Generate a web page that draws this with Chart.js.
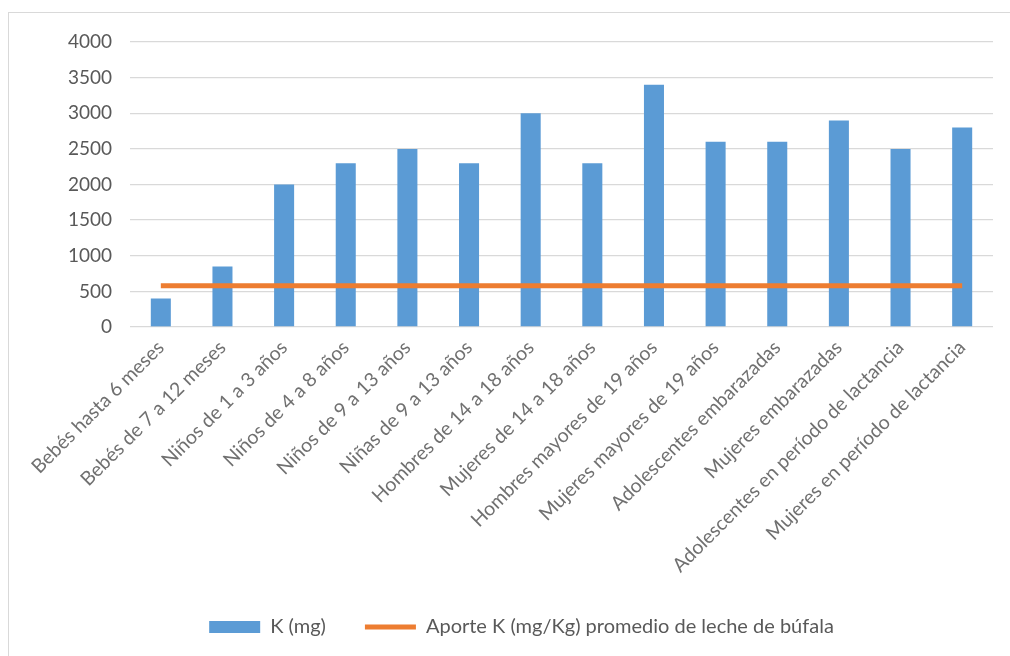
<!DOCTYPE html>
<html>
<head>
<meta charset="utf-8">
<script src="https://cdn.jsdelivr.net/npm/chart.js@4/dist/chart.umd.min.js"></script>
<style>
  html, body { margin: 0; padding: 0; background: #fff; overflow: hidden; }
  #frame { position: absolute; left: 8px; top: 12px; width: 1100px; height: 700px; border: 1px solid #d9d9d9; box-sizing: border-box; }
  #wrap { position: absolute; left: 0; top: 0; width: 1010px; height: 656px; }
</style>
</head>
<body>
<div id="frame"></div>
<div id="wrap"><canvas id="c" width="1010" height="656"></canvas></div>
<script>
const categories = [
  "Bebés hasta 6 meses",
  "Bebés de 7 a 12 meses",
  "Niños de 1 a 3 años",
  "Niños de 4 a 8 años",
  "Niños de 9 a 13 años",
  "Niñas de 9 a 13 años",
  "Hombres de 14 a 18 años",
  "Mujeres de 14 a 18 años",
  "Hombres mayores de 19 años",
  "Mujeres mayores de 19 años",
  "Adolescentes embarazadas",
  "Mujeres embarazadas",
  "Adolescentes en período de lactancia",
  "Mujeres en período de lactancia"
];
const kValues = [400, 850, 2000, 2300, 2500, 2300, 3000, 2300, 3400, 2600, 2600, 2900, 2500, 2800];
const aporteValues = [580, 580, 580, 580, 580, 580, 580, 580, 580, 580, 580, 580, 580, 580];
const yTicks = [0, 500, 1000, 1500, 2000, 2500, 3000, 3500, 4000];
const seriesNames = ["K (mg)", "Aporte K (mg/Kg) promedio de leche de búfala"];

const FONT = "Lato, 'Liberation Sans', sans-serif";
const GREY = "#595959";

new Chart(document.getElementById('c'), {
  data: {
    labels: categories,
    datasets: [
      {
        type: 'line',
        label: seriesNames[1],
        data: aporteValues,
        borderColor: '#ED7D31',
        backgroundColor: '#ED7D31',
        borderWidth: 5,
        pointRadius: 0,
        pointStyle: 'line',
        order: 0
      },
      {
        type: 'bar',
        label: seriesNames[0],
        data: kValues,
        backgroundColor: '#5B9BD5',
        borderWidth: 0,
        pointStyle: 'rect',
        categoryPercentage: 1,
        barPercentage: 0.325,
        order: 1
      }
    ]
  },
  options: {
    responsive: false,
    animation: false,
    layout: { padding: { left: 50, right: 17, top: 42, bottom: 9 } },
    plugins: {
      tooltip: { enabled: false },
      legend: {
        position: 'bottom',
        reverse: true,
        labels: {
          usePointStyle: true,
          pointStyleWidth: 51,
          boxHeight: 12,
          padding: 39,
          color: GREY,
          font: { family: FONT, size: 20 }
        }
      }
    },
    scales: {
      x: {
        grid: { display: false, drawTicks: false },
        border: { display: false },
        ticks: {
          autoSkip: false,
          minRotation: 45,
          maxRotation: 45,
          padding: 9,
          color: '#707070',
          font: { family: FONT, size: 19.5 }
        },
        afterFit: s => { s.height = 251; }
      },
      y: {
        min: 0,
        max: 4000,
        afterBuildTicks: s => { s.ticks = yTicks.map(v => ({ value: v })); },
        grid: { color: '#d9d9d9', lineWidth: 1.3, drawTicks: false },
        border: { display: false },
        ticks: {
          padding: 18,
          color: GREY,
          font: { family: FONT, size: 19 },
          callback: v => String(v)
        },
        afterFit: s => { s.width = 80; }
      }
    }
  }
});
</script>
</body>
</html>
